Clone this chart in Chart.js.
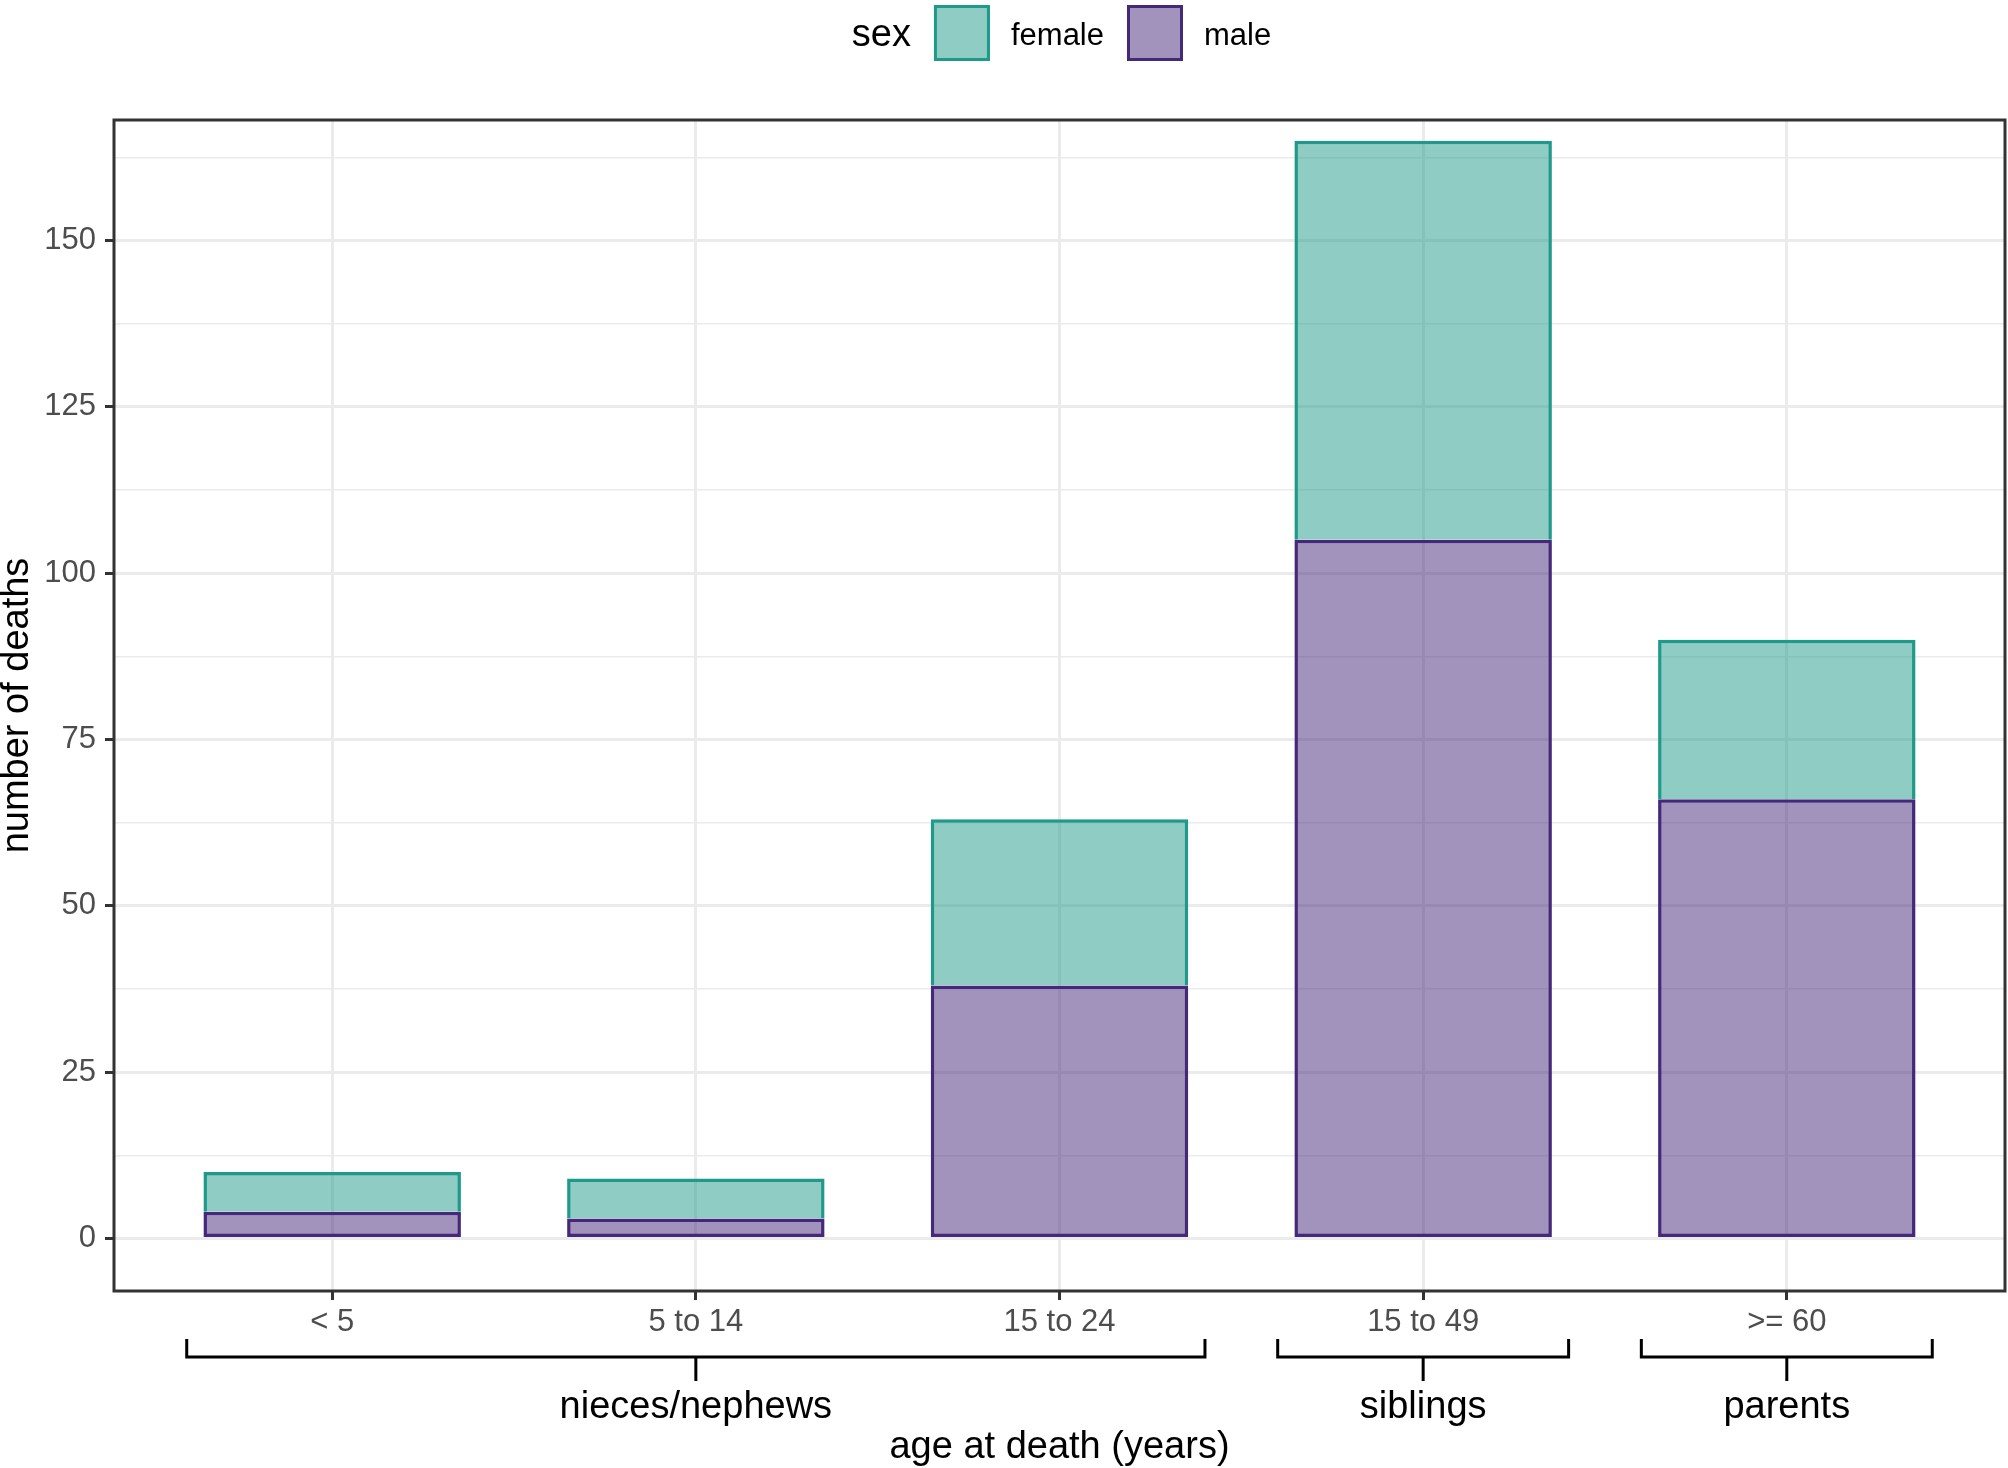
<!DOCTYPE html>
<html>
<head>
<meta charset="utf-8">
<script src="https://cdn.jsdelivr.net/npm/chart.js@4"></script>
<style>
  html, body { margin: 0; padding: 0; background: #ffffff; }
  #wrap { width: 2008px; height: 1468px; }
</style>
</head>
<body>
<div id="wrap"><canvas id="chart" width="2008" height="1468"></canvas></div>
<script>
// Data
const ageLabels = ['< 5', '5 to 14', '15 to 24', '15 to 49', '>= 60'];
const maleDeaths = [4, 3, 38, 105, 66];
const femaleDeaths = [6, 6, 25, 60, 24];

// Relationship groups spanning the age categories
const groupNames = ['nieces/nephews', 'siblings', 'parents'];
const groupFirst = [0, 3, 4];
const groupLast = [2, 3, 4];

// y axis ticks
const yMajorTicks = [0, 25, 50, 75, 100, 125, 150];
const yMinorTicks = [12.5, 37.5, 62.5, 87.5, 112.5, 137.5, 162.5];

const FONT = "'Liberation Sans', Arial, Helvetica, sans-serif";
const colors = {
    female: { line: 'rgb(31, 154, 138)', fill: 'rgba(31, 154, 138, 0.5)' },
    male: { line: 'rgb(68, 40, 122)', fill: 'rgba(68, 40, 122, 0.5)' }
};

const isMajor = v => yMajorTicks.includes(v);

// Legend, brackets, titles and panel border drawn on top
const decorations = {
    id: 'decorations',
    afterDatasetsDraw(chart) {
        const ctx = chart.ctx;
        const area = chart.chartArea;
        const x = chart.scales.x;

        ctx.save();

        // panel border
        ctx.strokeStyle = '#333333';
        ctx.lineWidth = 3;
        ctx.strokeRect(area.left, area.top, area.right - area.left, area.bottom - area.top);

        // group brackets
        ctx.strokeStyle = '#000000';
        ctx.lineWidth = 3;
        ctx.lineCap = 'butt';
        const yLine = area.bottom + 66;
        const yEnd = area.bottom + 48;
        const yTick = area.bottom + 90;
        groupNames.forEach((name, i) => {
            const x0 = x.getPixelForValue(groupFirst[i] - 0.4);
            const x1 = x.getPixelForValue(groupLast[i] + 0.4);
            const xc = x.getPixelForValue((groupFirst[i] + groupLast[i]) / 2);
            ctx.beginPath();
            ctx.moveTo(x0, yEnd);
            ctx.lineTo(x0, yLine);
            ctx.lineTo(x1, yLine);
            ctx.lineTo(x1, yEnd);
            ctx.moveTo(xc, yLine);
            ctx.lineTo(xc, yTick);
            ctx.stroke();

            ctx.fillStyle = '#000000';
            ctx.font = `38px ${FONT}`;
            ctx.textAlign = 'center';
            ctx.textBaseline = 'middle';
            ctx.fillText(name, xc, area.bottom + 117);
        });

        // axis titles
        ctx.fillStyle = '#000000';
        ctx.font = `38px ${FONT}`;
        ctx.textAlign = 'center';
        ctx.textBaseline = 'middle';
        ctx.fillText('age at death (years)', (area.left + area.right) / 2, area.bottom + 157);

        ctx.save();
        ctx.translate(18, (area.top + area.bottom) / 2);
        ctx.rotate(-Math.PI / 2);
        ctx.fillText('number of deaths', 0, 0);
        ctx.restore();

        // legend: title then female, male keys
        const items = [
            { label: 'female', c: colors.female },
            { label: 'male', c: colors.male }
        ];
        const box = 56;
        const gapBefore = 23;
        const gapAfter = 21;
        ctx.font = `38px ${FONT}`;
        const titleW = ctx.measureText('sex').width;
        ctx.font = `31px ${FONT}`;
        const labelW = items.map(it => ctx.measureText(it.label).width);
        const total = titleW + items.reduce((s, it, i) => s + gapBefore + box + gapAfter + labelW[i], 0);
        let lx = (area.left + area.right) / 2 + 2 - total / 2;
        const ly = 33;
        const ty = ly + 3;

        ctx.textAlign = 'left';
        ctx.font = `38px ${FONT}`;
        ctx.fillStyle = '#000000';
        ctx.fillText('sex', lx, ty);
        lx += titleW + gapBefore;

        items.forEach((it, i) => {
            ctx.fillStyle = '#ffffff';
            ctx.fillRect(lx, ly - box / 2, box, box);
            ctx.fillStyle = it.c.fill;
            ctx.fillRect(lx, ly - box / 2, box, box);
            ctx.strokeStyle = it.c.line;
            ctx.lineWidth = 3;
            ctx.strokeRect(lx + 1.5, ly - box / 2 + 1.5, box - 3, box - 3);
            lx += box + gapAfter;
            ctx.fillStyle = '#000000';
            ctx.font = `31px ${FONT}`;
            ctx.fillText(it.label, lx, ty);
            lx += labelW[i] + gapBefore;
        });

        ctx.restore();
    }
};

new Chart(document.getElementById('chart'), {
    type: 'bar',
    data: {
        datasets: [
            {
                label: 'male',
                data: maleDeaths.map((v, i) => ({ x: i, y: v })),
                backgroundColor: colors.male.fill,
                borderColor: colors.male.line,
                borderWidth: 3.5,
                borderSkipped: false
            },
            {
                label: 'female',
                data: femaleDeaths.map((v, i) => ({ x: i, y: v })),
                backgroundColor: colors.female.fill,
                borderColor: colors.female.line,
                borderWidth: 3.5,
                borderSkipped: 'start'
            }
        ]
    },
    options: {
        responsive: false,
        devicePixelRatio: 1,
        animation: false,
        layout: { padding: { top: 120, right: 3, left: 0, bottom: 0 } },
        datasets: { bar: { barPercentage: 0.708, categoryPercentage: 1 } },
        plugins: {
            legend: { display: false },
            tooltip: { enabled: false }
        },
        scales: {
            x: {
                type: 'linear',
                stacked: true,
                offset: false,
                min: -0.6,
                max: 4.6,
                afterBuildTicks: axis => { axis.ticks = ageLabels.map((_, i) => ({ value: i })); },
                afterFit: axis => { axis.height = 177; },
                grid: {
                    offset: false,
                    color: '#ebebeb',
                    lineWidth: 3,
                    tickColor: '#333333',
                    tickWidth: 3,
                    tickLength: 9
                },
                border: { display: false },
                ticks: {
                    autoSkip: false,
                    maxRotation: 0,
                    padding: 4,
                    color: '#4d4d4d',
                    font: { family: FONT, size: 31 },
                    callback: v => ageLabels[v]
                }
            },
            y: {
                stacked: true,
                min: -7.9,
                max: 168.1,
                afterBuildTicks: axis => {
                    axis.ticks = yMajorTicks.concat(yMinorTicks).sort((a, b) => a - b).map(v => ({ value: v }));
                },
                afterFit: axis => { axis.width = 114; },
                grid: {
                    color: '#ebebeb',
                    lineWidth: ctx => (ctx.tick && isMajor(ctx.tick.value)) ? 3 : 1.5,
                    tickColor: ctx => (ctx.tick && isMajor(ctx.tick.value)) ? '#333333' : 'rgba(0,0,0,0)',
                    tickWidth: 3,
                    tickLength: 9
                },
                border: { display: false },
                ticks: {
                    autoSkip: false,
                    padding: 9,
                    color: '#4d4d4d',
                    font: { family: FONT, size: 31 },
                    callback: v => isMajor(v) ? String(v) : ''
                }
            }
        }
    },
    plugins: [decorations]
});
</script>
</body>
</html>
